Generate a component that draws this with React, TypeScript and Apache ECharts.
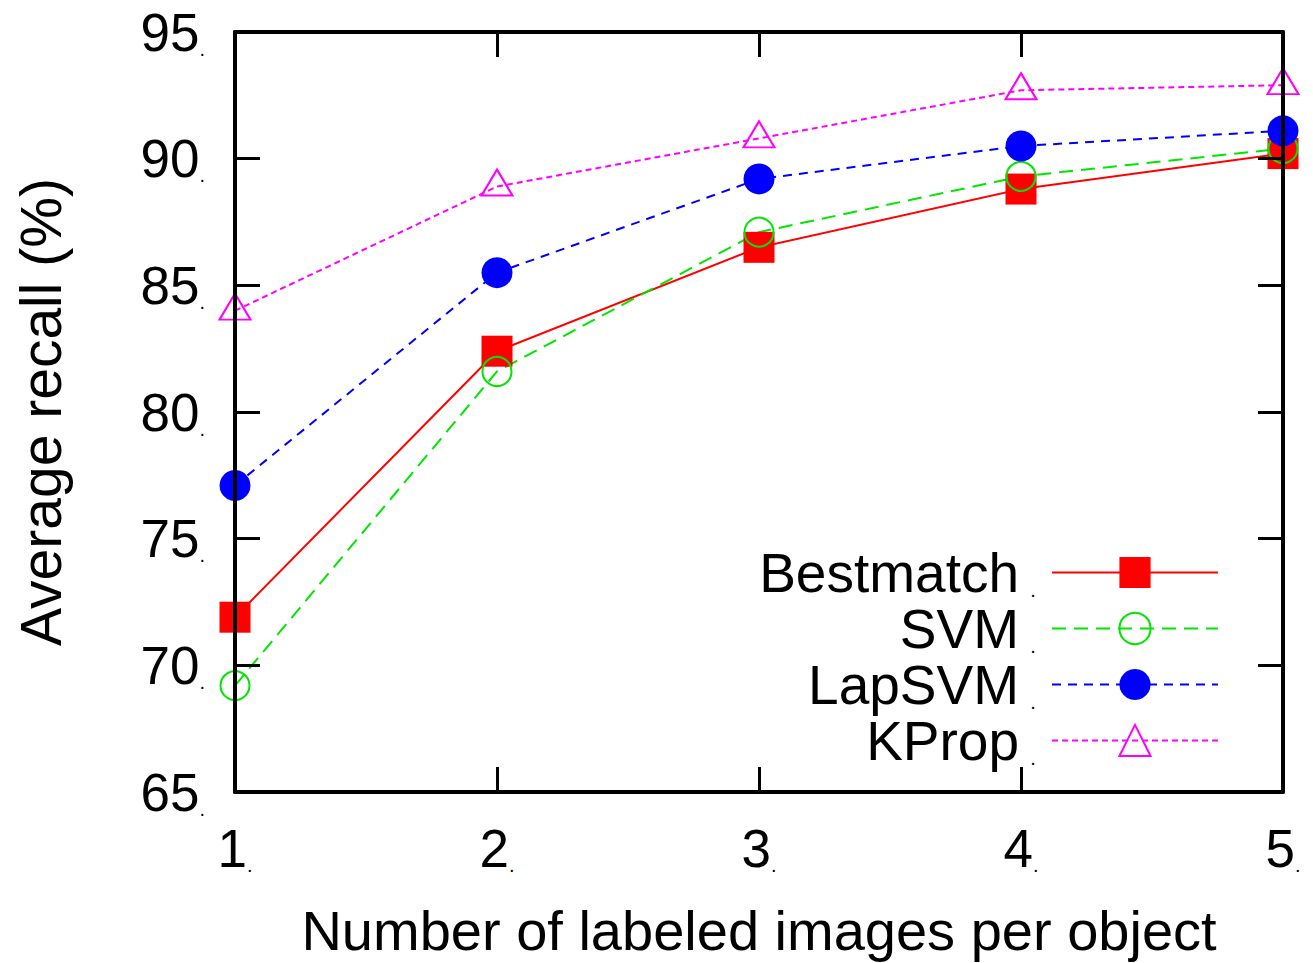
import React, { useEffect, useRef } from "react";
import * as echarts from "echarts";

const xValues = [1, 2, 3, 4, 5];
const bestmatch = [71.9, 82.4, 86.5, 88.8, 90.2];
const svm = [69.2, 81.6, 87.1, 89.3, 90.4];
const lapsvm = [77.1, 85.5, 89.2, 90.5, 91.1];
const kprop = [84.0, 88.9, 90.8, 92.7, 92.9];
const seriesNames = ["Bestmatch", "SVM", "LapSVM", "KProp"];

const FONT = "'Liberation Sans', Arial, Helvetica, sans-serif";

const pairs = (ys: number[]) => xValues.map((x, i) => [x, ys[i]]);

const richLabel = (size: number) => ({
  n: { fontSize: size, fontFamily: FONT, color: "#000" },
  d: { fontSize: 20, fontFamily: FONT, color: "#000", verticalAlign: "bottom" as const },
});

export default function App() {
  const ref = useRef<HTMLDivElement>(null);
  useEffect(() => {
    if (!ref.current) return;
    const chart = echarts.init(ref.current, undefined, { renderer: "svg" });
    const axisLine = { show: true, lineStyle: { color: "#000", width: 4 } };
    const tick = { show: true, inside: true, length: 25, lineStyle: { color: "#000", width: 3 } };
    const option: any = {
      animation: false,
      backgroundColor: "#fff",
      grid: { left: 235, right: 30, top: 32, bottom: 171, containLabel: false },
      xAxis: [
        {
          type: "value",
          min: 1,
          max: 5,
          interval: 1,
          z: 10,
          axisLine,
          axisTick: tick,
          splitLine: { show: false },
          axisLabel: {
            margin: 30,
            formatter: (v: number) => `{n|${v}}{d|.}`,
            rich: richLabel(53),
          },
          name: "Number of labeled images per object",
          nameLocation: "middle",
          nameGap: 110,
          nameTextStyle: { fontSize: 56, fontFamily: FONT, color: "#000" },
        },
        {
          type: "value",
          position: "top",
          min: 1,
          max: 5,
          interval: 1,
          z: 10,
          axisLine,
          axisTick: tick,
          splitLine: { show: false },
          axisLabel: { show: false },
        },
      ],
      yAxis: [
        {
          type: "value",
          min: 65,
          max: 95,
          interval: 5,
          z: 10,
          axisLine,
          axisTick: tick,
          splitLine: { show: false },
          axisLabel: {
            margin: 30,
            formatter: (v: number) => `{n|${v}}{d|.}`,
            rich: richLabel(53),
          },
          name: "Average recall (%)",
          nameLocation: "middle",
          nameGap: 166,
          nameTextStyle: { fontSize: 57, fontFamily: FONT, color: "#000" },
        },
        {
          type: "value",
          position: "right",
          min: 65,
          max: 95,
          interval: 5,
          z: 10,
          axisLine,
          axisTick: tick,
          splitLine: { show: false },
          axisLabel: { show: false },
        },
      ],
      legend: {
        orient: "vertical",
        align: "right",
        right: 94,
        top: 545,
        itemWidth: 166,
        itemHeight: 39,
        itemGap: 1,
        padding: 0,
        data: seriesNames,
        formatter: (name: string) => `{n|${name}}{d|.}`,
        textStyle: {
          fontSize: 55,
          fontFamily: FONT,
          color: "#000",
          rich: {
            n: { fontSize: 55, fontFamily: FONT, color: "#000" },
            d: {
              fontSize: 20,
              fontFamily: FONT,
              color: "#000",
              verticalAlign: "bottom",
              width: 28,
              align: "left",
            },
          },
        },
      },
      series: [
        {
          name: seriesNames[0],
          type: "line",
          data: pairs(bestmatch),
          symbol: "rect",
          symbolSize: 31,
          clip: false,
          itemStyle: { color: "#ff0000" },
          lineStyle: { color: "#ff0000", width: 2, type: "solid" },
        },
        {
          name: seriesNames[1],
          type: "line",
          data: pairs(svm),
          symbol: "circle",
          symbolSize: 29,
          clip: false,
          itemStyle: { color: "rgba(0,0,0,0)", borderColor: "#00e600", borderWidth: 2 },
          lineStyle: { color: "#00e600", width: 2, type: [14, 8] },
        },
        {
          name: seriesNames[2],
          type: "line",
          data: pairs(lapsvm),
          symbol: "circle",
          symbolSize: 31,
          clip: false,
          itemStyle: { color: "#0000ff" },
          lineStyle: { color: "#0000ff", width: 2, type: [9, 7] },
        },
        {
          name: seriesNames[3],
          type: "line",
          data: pairs(kprop),
          symbol: "triangle",
          symbolSize: [31, 26],
          symbolOffset: [0, -4],
          clip: false,
          itemStyle: { color: "rgba(0,0,0,0)", borderColor: "#ff00ff", borderWidth: 2 },
          lineStyle: { color: "#ff00ff", width: 2, type: [6, 4] },
        },
      ],
    };
    chart.setOption(option);
    return () => chart.dispose();
  }, []);
  return (
    <div
      ref={ref}
      style={{ position: "fixed", left: 0, top: 0, width: 1313, height: 963, background: "#fff" }}
    />
  );
}
